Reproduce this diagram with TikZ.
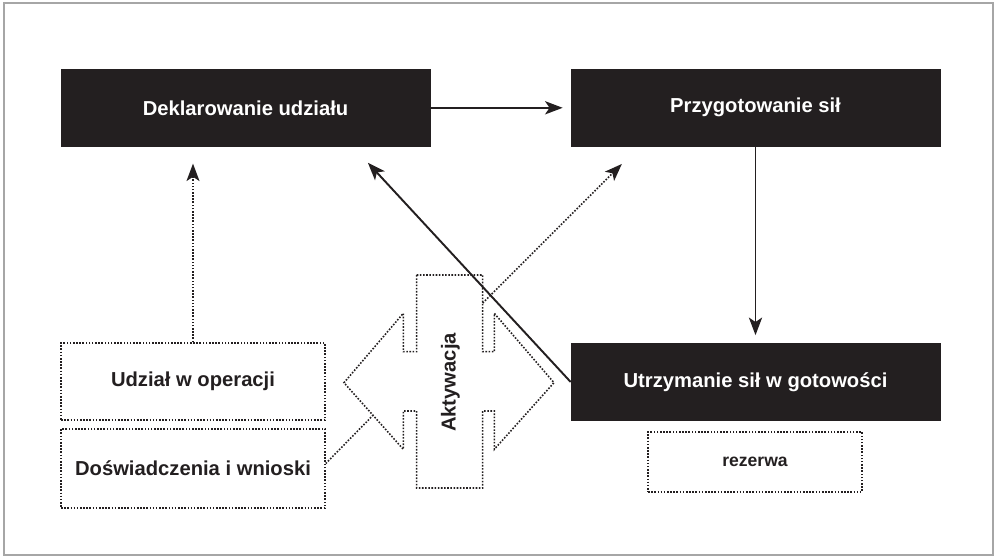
\documentclass[tikz,border=0pt]{standalone}
\usepackage{fontspec}
\setmainfont{Liberation Sans}
\usetikzlibrary{arrows.meta,calc}
\definecolor{boxblack}{HTML}{231F20}
\tikzset{
  blackbox/.style={
    draw = boxblack,
    fill = boxblack,
    text = white,
    inner sep = 0.055cm,
    minimum width=7.38cm,
    minimum height=1.54cm,
    font=\fontsize{11.5}{13}\selectfont\bfseries
  },
  dotbox/.style={
    draw = boxblack,
    line width=0.9pt,
    dash pattern=on 0.9pt off 0.9pt,
    text = boxblack,
    inner sep = 0.055cm,
    minimum width=5.28cm,
    minimum height=1.54cm,
    font=\fontsize{11.5}{13}\selectfont\bfseries
  },
  dotline/.style={
    draw = boxblack,
    line width=0.9pt,
    dash pattern=on 0.9pt off 0.9pt
  },
  solidarrow/.style={
    draw = boxblack,
    line width=1.1pt,
    -{Stealth[length=10pt,width=7.5pt,inset=2.5pt]}
  },
  dotarrow/.style={
    dotline,
    -{Stealth[length=10pt,width=7.5pt,inset=2.5pt,sep=0pt,line width=0pt]}
  }
}

\begin{document}
\begin{tikzpicture}[x=0.02cm,y=-0.02cm]
  \useasboundingbox (0,0) rectangle (995,558);
  \draw[gray!70, line width=0.6pt] (4,3) rectangle (993,555);

  \node[blackbox] (dek) at (245.5,107.8) {Deklarowanie udziału};
  \node[blackbox] (prz) at (755.5,107.8) {Przygotowanie sił};
  \node[blackbox] (utr) at (755.5,382) {Utrzymanie sił w gotowości};

  \node[dotbox] (udz) at (193,381.5) {Udział w operacji};
  \node[dotbox, minimum height=1.58cm] (dos) at (193,468.5) {Doświadczenia i wnioski};
  \node[dotbox, minimum width=4.28cm, minimum height=1.2cm,
        font=\fontsize{10}{12}\selectfont\bfseries] (rez) at (755,462) {rezerwa};

  % cross with double arrow
  \draw[dotline] (416.7,275) -- (482.7,275) -- (482.7,351.7) -- (494.3,351.7)
    -- (494.3,313.3) -- (554,382.7) -- (494.3,449.3) -- (494.3,411)
    -- (482.7,411) -- (482.7,488) -- (416.7,488) -- (416.7,411)
    -- (403.3,411) -- (403.3,449.3) -- (344,382.7) -- (403.3,313.3)
    -- (403.3,351.7) -- (416.7,351.7) -- cycle;
  \node[rotate=90, text=boxblack, font=\fontsize{11.5}{13}\selectfont\bfseries]
    (akt) at (450.5,382.5) {Aktywacja};
  \coordinate (aktNE) at (482.7,303);
  \coordinate (aktSW) at (373,415.3);

  \draw[solidarrow, shorten >=0.16cm] (dek.east) -- (prz.west);
  \draw[solidarrow, shorten >=0.16cm] (prz.south) -- (utr.north);
  \draw[solidarrow, shorten >=0.44cm] (utr.west) -- ([xshift=2.15cm]dek.south);
  \draw[dotarrow, shorten >=0.34cm] (udz.north) -- (udz.north |- dek.south);
  \draw[dotarrow, shorten >=0.49cm] (aktNE) -- ([xshift=1.37cm]prz.south west);
  \draw[dotline] ([yshift=0.1cm]dos.east) -- (aktSW);
\end{tikzpicture}
\end{document}
